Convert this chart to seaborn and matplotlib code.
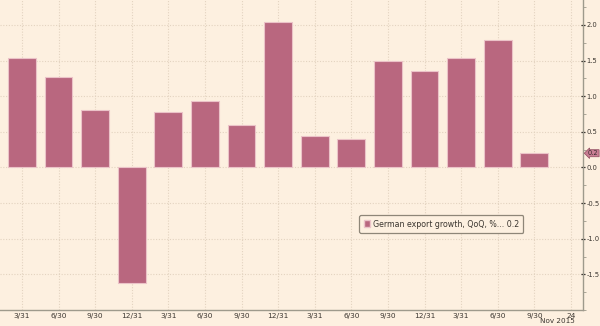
import matplotlib
matplotlib.use("Agg")
import matplotlib.pyplot as plt
import matplotlib.patches as mpatches
import matplotlib.transforms as mtransforms
from matplotlib.ticker import MultipleLocator, FixedLocator
import seaborn as sns
import pandas as pd

# German export growth, quarter on quarter, %
quarters = ["2012Q1", "2012Q2", "2012Q3", "2012Q4",
            "2013Q1", "2013Q2", "2013Q3", "2013Q4",
            "2014Q1", "2014Q2", "2014Q3", "2014Q4",
            "2015Q1", "2015Q2", "2015Q3"]
growth = [1.53, 1.27, 0.81, -1.62, 0.78, 0.93, 0.59, 2.04,
          0.44, 0.40, 1.50, 1.35, 1.53, 1.79, 0.2]
tick_labels = ["3/31", "6/30", "9/30", "12/31"] * 3 + ["3/31", "6/30", "9/30", "24"]
series_name = "German export growth, QoQ, %... 0.2"
last_value = growth[-1]

BG = "#FDF0E0"
BAR = "#B9677F"
BAR_EDGE = "#EBC3C8"
GRID = "#E3D3C0"
AXIS = "#9E9A8C"
TEXT = "#3B3630"

df = pd.DataFrame({"quarter": quarters, "growth": growth})

sns.set_theme(style="white")
plt.rcParams["font.family"] = ["DejaVu Sans"]

fig = plt.figure(figsize=(6.0, 3.26), dpi=100, facecolor=BG)
ax = fig.add_axes([0.0, 16 / 326, 583 / 600, 310 / 326])
ax.set_facecolor(BG)

sns.barplot(data=df, x="quarter", y="growth", order=quarters, color=BAR,
            width=0.76, edgecolor=BAR_EDGE, linewidth=0.8, saturation=1,
            ax=ax, zorder=3)

ax.set_xlim(-0.6, 15.33)
ax.set_ylim(-2.0, 2.35)

# x ticks: quarter ends plus the current date
ax.xaxis.set_major_locator(FixedLocator(list(range(len(tick_labels)))))
ax.set_xticklabels(tick_labels, fontsize=5.3, color=TEXT)
ax.tick_params(axis="x", length=2, width=0.6, color=AXIS, pad=0.5)

# y axis on the right
ax.yaxis.tick_right()
ax.yaxis.set_minor_locator(MultipleLocator(0.25))
ax.set_yticks([-1.5, -1.0, -0.5, 0.0, 0.5, 1.0, 1.5, 2.0])
ax.set_yticklabels(["-1.5", "-1.0", "-0.5", "0.0", "0.5", "1.0", "1.5", "2.0"],
                   fontsize=4.9, color=TEXT)
ax.tick_params(axis="y", which="major", direction="inout", length=3.5, width=0.9,
               color="#2E2A26", pad=0.6)
ax.tick_params(axis="y", which="minor", direction="out", length=2, width=0.6,
               color=AXIS)
ax.set_xlabel("")
ax.set_ylabel("")

# dotted grid
ax.grid(True, which="major", axis="both", color=GRID, linestyle=(0, (1, 1.5)),
        linewidth=0.8, zorder=0)
ax.set_axisbelow(True)

for side in ["top", "left"]:
    ax.spines[side].set_visible(False)
for side in ["right", "bottom"]:
    ax.spines[side].set_color(AXIS)
    ax.spines[side].set_linewidth(1.0)

# date caption under the last tick
trans = mtransforms.blended_transform_factory(ax.transData, ax.transAxes)
ax.text(15.12, -0.037, "Nov 2015", transform=trans, ha="right", va="center",
        fontsize=5.2, color=TEXT, clip_on=False)

# last value tag on the right axis
ytrans = mtransforms.blended_transform_factory(ax.transAxes, ax.transData)
ax.text(1.0085, last_value, f"{last_value:.1f}", transform=ytrans, ha="left",
        va="center", fontsize=4.8, color="#3A2A2E", clip_on=False,
        bbox=dict(boxstyle="larrow,pad=0.08", facecolor="#C97E94",
                  edgecolor="#8F4A5E", linewidth=0.5))

# legend box
handle = mpatches.Patch(facecolor=BAR, edgecolor=BAR_EDGE, label=series_name)
leg = ax.legend(handles=[handle], loc="center", bbox_to_anchor=(0.757, 0.277),
                fontsize=5.7, frameon=True, fancybox=True, handlelength=0.8,
                handleheight=1.0, handletextpad=0.3, borderpad=0.55,
                labelcolor=TEXT)
leg.get_frame().set_facecolor(BG)
leg.get_frame().set_edgecolor("#8E8678")
leg.get_frame().set_linewidth(0.9)
leg.get_frame().set_alpha(1)

fig.savefig("out.png", dpi=100, facecolor=BG)
